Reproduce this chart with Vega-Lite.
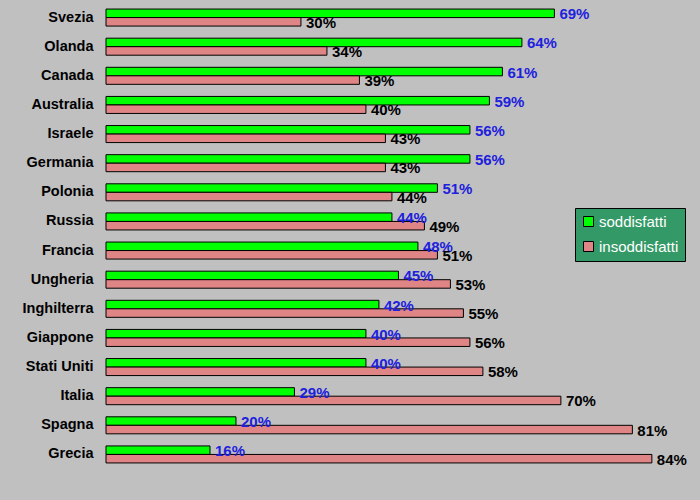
{
  "$schema": "https://vega.github.io/schema/vega-lite/v6.json",
  "description": "Soddisfatti / insoddisfatti per paese",
  "autosize": "none",
  "width": 592,
  "height": 466,
  "padding": {"left": 106, "top": 3, "right": 2, "bottom": 31},
  "background": "#C0C0C0",
  "config": {
    "view": {"stroke": null},
    "font": "Liberation Sans"
  },
  "data": {
    "values": [
      {"paese": "Svezia", "serie": "soddisfatti", "valore": 0.69},
      {"paese": "Svezia", "serie": "insoddisfatti", "valore": 0.30},
      {"paese": "Olanda", "serie": "soddisfatti", "valore": 0.64},
      {"paese": "Olanda", "serie": "insoddisfatti", "valore": 0.34},
      {"paese": "Canada", "serie": "soddisfatti", "valore": 0.61},
      {"paese": "Canada", "serie": "insoddisfatti", "valore": 0.39},
      {"paese": "Australia", "serie": "soddisfatti", "valore": 0.59},
      {"paese": "Australia", "serie": "insoddisfatti", "valore": 0.40},
      {"paese": "Israele", "serie": "soddisfatti", "valore": 0.56},
      {"paese": "Israele", "serie": "insoddisfatti", "valore": 0.43},
      {"paese": "Germania", "serie": "soddisfatti", "valore": 0.56},
      {"paese": "Germania", "serie": "insoddisfatti", "valore": 0.43},
      {"paese": "Polonia", "serie": "soddisfatti", "valore": 0.51},
      {"paese": "Polonia", "serie": "insoddisfatti", "valore": 0.44},
      {"paese": "Russia", "serie": "soddisfatti", "valore": 0.44},
      {"paese": "Russia", "serie": "insoddisfatti", "valore": 0.49},
      {"paese": "Francia", "serie": "soddisfatti", "valore": 0.48},
      {"paese": "Francia", "serie": "insoddisfatti", "valore": 0.51},
      {"paese": "Ungheria", "serie": "soddisfatti", "valore": 0.45},
      {"paese": "Ungheria", "serie": "insoddisfatti", "valore": 0.53},
      {"paese": "Inghilterra", "serie": "soddisfatti", "valore": 0.42},
      {"paese": "Inghilterra", "serie": "insoddisfatti", "valore": 0.55},
      {"paese": "Giappone", "serie": "soddisfatti", "valore": 0.40},
      {"paese": "Giappone", "serie": "insoddisfatti", "valore": 0.56},
      {"paese": "Stati Uniti", "serie": "soddisfatti", "valore": 0.40},
      {"paese": "Stati Uniti", "serie": "insoddisfatti", "valore": 0.58},
      {"paese": "Italia", "serie": "soddisfatti", "valore": 0.29},
      {"paese": "Italia", "serie": "insoddisfatti", "valore": 0.70},
      {"paese": "Spagna", "serie": "soddisfatti", "valore": 0.20},
      {"paese": "Spagna", "serie": "insoddisfatti", "valore": 0.81},
      {"paese": "Grecia", "serie": "soddisfatti", "valore": 0.16},
      {"paese": "Grecia", "serie": "insoddisfatti", "valore": 0.84}
    ]
  },
  "encoding": {
    "y": {
      "field": "paese",
      "type": "nominal",
      "sort": null,
      "scale": {"paddingInner": 0.416, "paddingOuter": 0.208},
      "axis": {
        "title": null,
        "domain": false,
        "ticks": false,
        "labelPadding": 13,
        "labelFont": "Liberation Sans",
        "labelFontSize": 14.5,
        "labelFontWeight": "bold",
        "labelColor": "black"
      }
    },
    "yOffset": {
      "field": "serie",
      "type": "nominal",
      "sort": ["soddisfatti", "insoddisfatti"]
    },
    "x": {
      "field": "valore",
      "type": "quantitative",
      "scale": {"domain": [0, 0.911], "nice": false},
      "axis": null
    }
  },
  "layer": [
    {
      "mark": {"type": "bar", "stroke": "black", "strokeWidth": 1},
      "encoding": {
        "color": {
          "field": "serie",
          "type": "nominal",
          "scale": {
            "domain": ["soddisfatti", "insoddisfatti"],
            "range": ["#00FF00", "#E08585"]
          },
          "legend": {
            "title": null,
            "orient": "none",
            "legendX": 469,
            "legendY": 205,
            "fillColor": "#339966",
            "strokeColor": "black",
            "padding": 6,
            "symbolType": "square",
            "symbolSize": 100,
            "symbolStrokeColor": "black",
            "symbolStrokeWidth": 1,
            "symbolOpacity": 1,
            "labelColor": "white",
            "labelFont": "Liberation Sans",
            "labelFontSize": 15,
            "labelOffset": 3,
            "rowPadding": 9
          }
        }
      }
    },
    {
      "mark": {
        "type": "text",
        "align": "left",
        "baseline": "middle",
        "dx": 5,
        "dy": 1,
        "font": "Liberation Sans",
        "fontSize": 15,
        "fontWeight": "bold"
      },
      "encoding": {
        "text": {"field": "valore", "type": "quantitative", "format": ".0%"},
        "color": {
          "condition": {"test": "datum.serie === 'soddisfatti'", "value": "#2020DD"},
          "value": "black"
        }
      }
    }
  ]
}
